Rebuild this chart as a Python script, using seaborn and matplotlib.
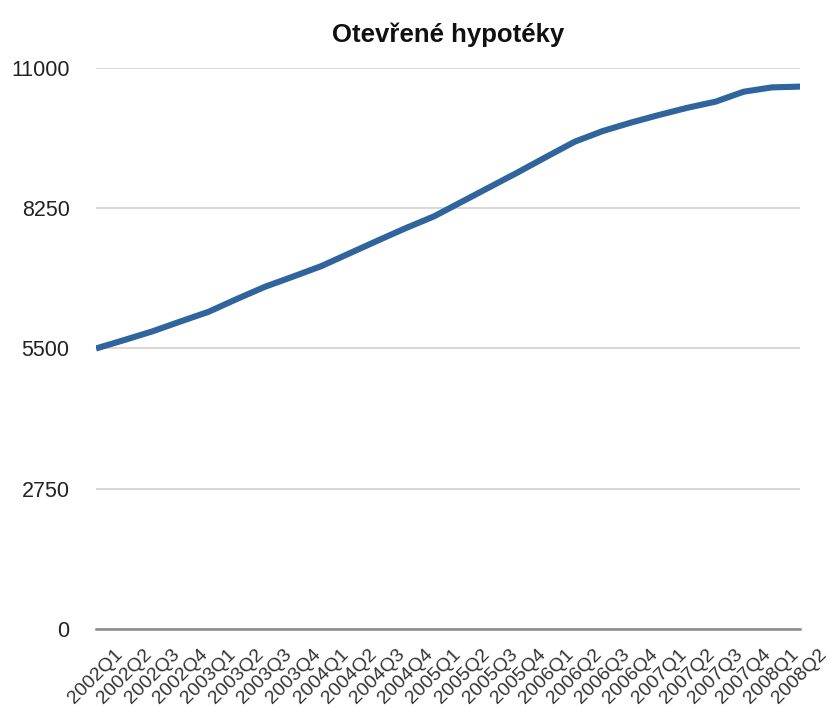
import matplotlib
matplotlib.use("Agg")
import matplotlib.pyplot as plt
import seaborn as sns
import pandas as pd

# Quarterly count of open mortgages
quarters = [
    "2002Q1", "2002Q2", "2002Q3", "2002Q4",
    "2003Q1", "2003Q2", "2003Q3", "2003Q4",
    "2004Q1", "2004Q2", "2004Q3", "2004Q4",
    "2005Q1", "2005Q2", "2005Q3", "2005Q4",
    "2006Q1", "2006Q2", "2006Q3", "2006Q4",
    "2007Q1", "2007Q2", "2007Q3", "2007Q4",
    "2008Q1", "2008Q2",
]
mortgages = [
    5500, 5665, 5835, 6030,
    6220, 6470, 6710, 6910,
    7115, 7365, 7615, 7860,
    8090, 8380, 8670, 8960,
    9260, 9555, 9765, 9930,
    10080, 10220, 10340, 10535,
    10620, 10635,
]
y_ticks = [0, 2750, 5500, 8250, 11000]
title = "Otevřené hypotéky"

sns.set_theme(style="white")
plt.rcParams["font.family"] = ["Liberation Sans", "DejaVu Sans"]

df = pd.DataFrame({"quarter": quarters, "value": mortgages})

fig = plt.figure(figsize=(8.36, 7.15), dpi=100)
ax = fig.add_axes([0.1148, 0.1203, 0.8422, 0.7846])

sns.lineplot(data=df, x="quarter", y="value", ax=ax,
             color="#30649c", linewidth=4.4, sort=False,
             solid_capstyle="butt")

ax.set_xlim(0, len(quarters) - 1)
ax.set_ylim(0, 11000)
ax.set_yticks(y_ticks)
ax.set_yticklabels([str(t) for t in y_ticks])
ax.set_xticks(range(len(quarters)))
# slanted quarter labels centred on their ticks
ax.set_xticklabels(quarters, rotation=45, ha="center", va="center",
                   rotation_mode="anchor")

ax.yaxis.grid(True, color="#d4d4d4", linewidth=1.3)
ax.xaxis.grid(False)
ax.set_axisbelow(True)

for side in ("top", "right", "left"):
    ax.spines[side].set_visible(False)
ax.spines["bottom"].set_color("#8a8a8a")
ax.spines["bottom"].set_linewidth(1.8)

ax.tick_params(axis="y", length=0, pad=19, labelsize=15.5, labelcolor="#222222")
ax.tick_params(axis="x", length=0, pad=34, labelsize=14, labelcolor="#333333")
for lbl in ax.get_yticklabels():
    lbl.set_horizontalalignment("right")

ax.set_xlabel("")
ax.set_ylabel("")
ax.set_title(title, fontsize=18.5, fontweight="bold", pad=19, color="#111111")

fig.savefig("out.png", dpi=100)
